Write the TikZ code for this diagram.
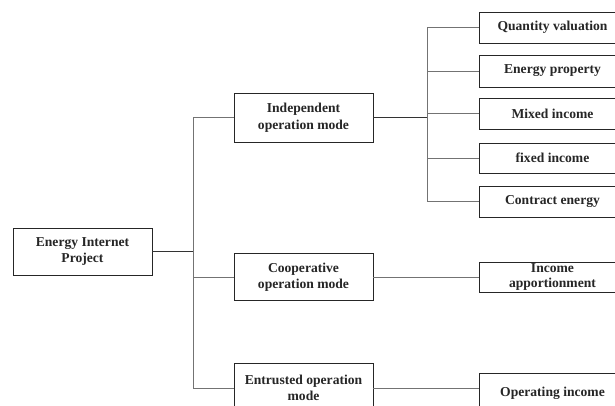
\documentclass[tikz,border=0pt]{standalone}
\usepackage{fontspec}
\setmainfont{Liberation Serif}
\begin{document}
\begin{tikzpicture}[x=1pt,y=-1pt,
  box/.style={draw=black!85,line width=0.8pt,rectangle,inner sep=0pt,align=center,
    font=\fontsize{13.6}{16.5}\selectfont\bfseries,text=black!85},
  conn/.style={draw=black!55,line width=0.6pt},
  connd/.style={draw=black!80,line width=0.7pt}]
\clip (0,0) rectangle (615,405);
\fill[white] (0,0) rectangle (615,405);
% main boxes
\node[box,minimum width=139pt,minimum height=47pt] (root) at (82.5,251.5) {Energy Internet\\Project};
\node[box,minimum width=139pt,minimum height=49pt] (ind) at (303.5,117.5) {Independent\\operation mode};
\node[box,minimum width=139pt,minimum height=47pt] (coop) at (303.5,277) {Cooperative\\operation mode};
\node[box,minimum width=139pt,minimum height=50pt] (ent) at (303.5,388) {Entrusted operation\\mode};
% leaves
\node[box,minimum width=147pt,minimum height=31pt] (qv) at (552.5,27.5) {Quantity valuation};
\node[box,minimum width=147pt,minimum height=32pt] (ep) at (552.5,71) {Energy property};
\node[box,minimum width=147pt,minimum height=31pt] (mi) at (552.5,113.5) {Mixed income};
\node[box,minimum width=147pt,minimum height=30pt] (fi) at (552.5,158) {fixed income};
\node[box,minimum width=147pt,minimum height=31pt] (ce) at (552.5,201.5) {Contract energy};
\node[box,minimum width=147pt,minimum height=30pt,font=\fontsize{13.6}{15.5}\selectfont\bfseries] (ia) at (552.5,277) {Income\\apportionment};
\node[box,minimum width=147pt,minimum height=40pt] (oi) at (552.5,393) {Operating income};
% connectors
\coordinate (tx) at (193,0);
\coordinate (ux) at (427,0);
\draw[connd] (root.east) -- (root.east -| tx);
\draw[conn] (ind.west) -- (ind.west -| tx) -- (ent.west -| tx) -- (ent.west);
\draw[conn] (coop.west -| tx) -- (coop.west);
\draw[connd] (ind.east) -- (ind.east -| ux);
\draw[conn] (qv.west -| ux) -- (ce.west -| ux);
\foreach \n in {qv,ep,mi,fi,ce}{\draw[conn] (\n.west -| ux) -- (\n.west);}
\draw[conn] (coop.east) -- (ia.west);
\draw[conn] (ent.east) -- (ent.east -| oi.west);
\end{tikzpicture}
\end{document}
